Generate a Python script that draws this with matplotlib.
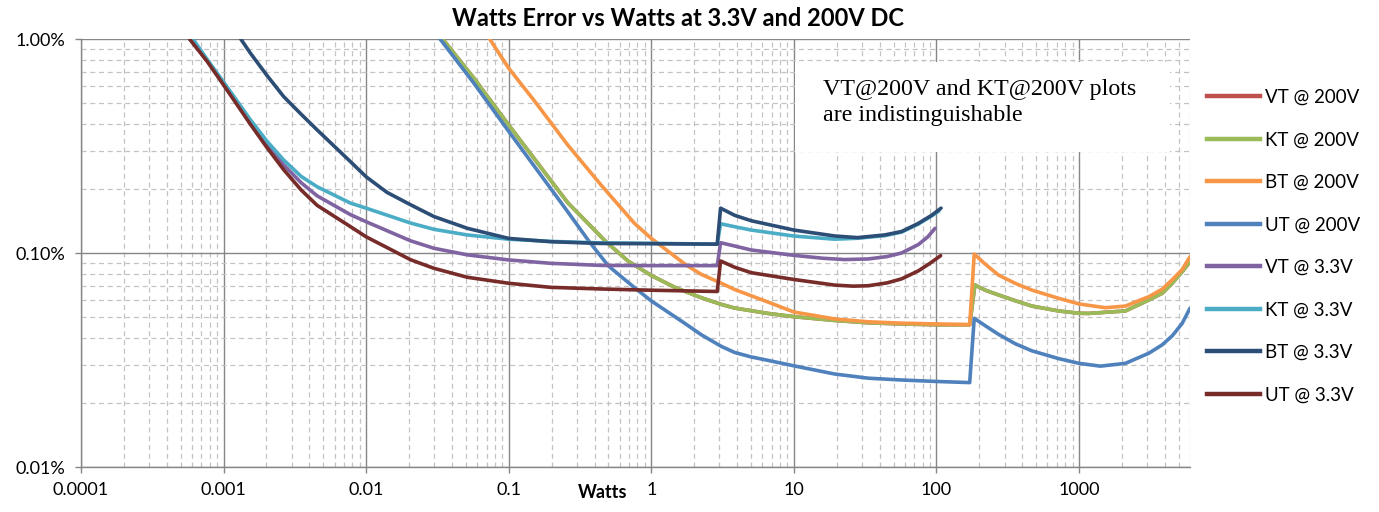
import matplotlib.pyplot as plt
from matplotlib.ticker import FixedLocator, LogLocator, NullFormatter
from matplotlib.lines import Line2D
from matplotlib.patches import Rectangle

# Watts error (%) vs load (W); the step in each curve is the range switch
UT_200_W = [0.033, 0.0571, 0.1, 0.2085, 0.259, 0.367, 0.5, 0.75, 1.0, 1.71, 2.24, 3.1, 3.84, 5,
            6.58, 10, 19.3, 33.2, 56.9, 100, 171, 184, 219, 272, 356, 467, 719, 1000, 1410,
            2113, 3083, 3824, 4500, 5288, 6000]
UT_200_E = [1.0, 0.62, 0.37, 0.19, 0.156, 0.113, 0.087, 0.0695, 0.0597, 0.047, 0.0415, 0.0366,
            0.0343, 0.0327, 0.0315, 0.0297, 0.0272, 0.026, 0.0255, 0.0251, 0.0248, 0.0495, 0.0458,
            0.0417, 0.0377, 0.0349, 0.0321, 0.0305, 0.0296, 0.0305, 0.034, 0.0372, 0.041, 0.0469,
            0.0552]

KT_200_W = [0.0344, 0.0571, 0.1, 0.259, 0.48, 0.69, 1.0, 1.47, 2.24, 3.1, 3.84, 6.58, 10, 19.3,
            33.2, 56.9, 100, 171, 186, 219, 272, 356, 467, 719, 1000, 1167, 2113, 3083, 3824,
            4500, 5288, 6000]
KT_200_E = [1.0, 0.655, 0.396, 0.172, 0.113, 0.0915, 0.0785, 0.069, 0.0618, 0.0575, 0.0553,
            0.0522, 0.0504, 0.0484, 0.0472, 0.0466, 0.0462, 0.0462, 0.0709, 0.0671, 0.0637,
            0.0599, 0.0565, 0.0536, 0.0523, 0.0522, 0.0536, 0.0603, 0.0648, 0.0722, 0.0818, 0.091]

# same values as KT @ 200V
VT_200_W = list(KT_200_W)
VT_200_E = list(KT_200_E)

BT_200_W = [0.0735, 0.1, 0.151, 0.259, 0.4437, 0.761, 1.0, 1.77, 2.24, 3.1, 3.84, 6.58, 10,
            19.3, 33.2, 56.9, 100, 171, 184, 219, 272, 356, 467, 719, 1000, 1528, 2113, 3083,
            3824, 4500, 5288, 6000]
BT_200_E = [1.0, 0.73, 0.515, 0.32, 0.208, 0.1377, 0.117, 0.0875, 0.0795, 0.0722, 0.0675, 0.059,
            0.053, 0.0492, 0.0477, 0.047, 0.0466, 0.0463, 0.0989, 0.0889, 0.0789, 0.0722, 0.0671,
            0.0614, 0.0578, 0.0555, 0.0565, 0.0625, 0.0677, 0.075, 0.0837, 0.0961]

VT_33_W = [0.00058, 0.00077, 0.001, 0.00154, 0.002, 0.00264, 0.0035, 0.00453, 0.00777, 0.01,
           0.0205, 0.0299, 0.0513, 0.1, 0.1976, 0.4437, 1.0, 2.9, 3.06, 3.84, 5.02, 10, 16,
           22.6, 33.2, 45, 56.9, 74.6, 87, 97.7]
VT_33_E = [1.0, 0.79, 0.615, 0.41, 0.325, 0.258, 0.213, 0.185, 0.151, 0.140, 0.114, 0.1052,
           0.098, 0.0928, 0.0895, 0.0875, 0.0873, 0.0873, 0.1117, 0.1078, 0.1033, 0.0975, 0.0945,
           0.0932, 0.0938, 0.0962, 0.1, 0.1095, 0.119, 0.1304]

KT_33_W = [0.00061, 0.00077, 0.001, 0.00154, 0.002, 0.00264, 0.0035, 0.00453, 0.00777, 0.01,
           0.0205, 0.0299, 0.0513, 0.1, 0.1976, 0.4437, 1.0, 2.9, 3.06, 3.84, 5.02, 10, 19.3,
           28, 43.5, 56.9, 74.6, 92.5, 104]
KT_33_E = [1.0, 0.80, 0.63, 0.42, 0.335, 0.272, 0.228, 0.204, 0.171, 0.162, 0.138, 0.129,
           0.1214, 0.116, 0.1133, 0.1115, 0.111, 0.110, 0.137, 0.1327, 0.128, 0.12, 0.116,
           0.1172, 0.1205, 0.1252, 0.1365, 0.149, 0.157]

BT_33_W = [0.00132, 0.00154, 0.002, 0.00264, 0.0035, 0.00453, 0.00777, 0.01, 0.014, 0.0205,
           0.0299, 0.0513, 0.1, 0.1976, 0.4437, 1.0, 2.9, 3.06, 3.84, 5.02, 10, 19.3, 28, 43.5,
           56.9, 74.6, 92.5, 107.6]
BT_33_E = [1.0, 0.86, 0.68, 0.538, 0.445, 0.376, 0.267, 0.227, 0.192, 0.168, 0.148, 0.1304,
           0.117, 0.1129, 0.1108, 0.1105, 0.110, 0.162, 0.150, 0.1415, 0.128, 0.1201, 0.118,
           0.1215, 0.126, 0.1375, 0.150, 0.162]

UT_33_W = [0.000577, 0.00077, 0.001, 0.00154, 0.002, 0.00264, 0.0035, 0.00453, 0.00777, 0.01,
           0.0205, 0.0299, 0.0513, 0.1, 0.1976, 0.4437, 1.0, 2.9, 3.06, 3.84, 5.02, 10, 19.3,
           26, 33.2, 45, 56.9, 74.6, 90, 107]
UT_33_E = [1.0, 0.783, 0.61, 0.40, 0.313, 0.245, 0.197, 0.167, 0.1327, 0.119, 0.093, 0.0848,
           0.077, 0.0722, 0.0691, 0.0679, 0.067, 0.0661, 0.0918, 0.0858, 0.0809, 0.0752, 0.0708,
           0.0700, 0.0703, 0.0725, 0.0757, 0.0825, 0.0895, 0.0972]

SERIES = [
    ("VT @ 200V", VT_200_W, VT_200_E, "#C0504D"),
    ("KT @ 200V", KT_200_W, KT_200_E, "#9BBB59"),
    ("BT @ 200V", BT_200_W, BT_200_E, "#F79646"),
    ("UT @ 200V", UT_200_W, UT_200_E, "#4F81BD"),
    ("VT @ 3.3V", VT_33_W, VT_33_E, "#8064A2"),
    ("KT @ 3.3V", KT_33_W, KT_33_E, "#4BACC6"),
    ("BT @ 3.3V", BT_33_W, BT_33_E, "#2C4D75"),
    ("UT @ 3.3V", UT_33_W, UT_33_E, "#772C2A"),
]

X_TICKS = [0.0001, 0.001, 0.01, 0.1, 1, 10, 100, 1000]
X_LABELS = ["0.0001", "0.001", "0.01", "0.1", "1", "10", "100", "1000"]
Y_TICKS = [0.01, 0.1, 1.0]
Y_LABELS = ["0.01%", "0.10%", "1.00%"]

plt.rcParams["font.family"] = ["Lato", "DejaVu Sans"]

W, H = 1379, 512
L, R, T, B = 81, 1190, 39, 467  # plot area in pixels
fig = plt.figure(figsize=(W / 100, H / 100), dpi=100)
ax = fig.add_axes([L / W, 1 - B / H, (R - L) / W, (B - T) / H])

ax.set_xscale("log")
ax.set_yscale("log")
ax.set_xlim(1e-4, 6000)
ax.set_ylim(0.01, 1.0)

for axis in (ax.xaxis, ax.yaxis):
    axis.set_minor_locator(LogLocator(base=10, subs=range(2, 10), numticks=100))
    axis.set_minor_formatter(NullFormatter())
ax.xaxis.set_major_locator(FixedLocator(X_TICKS))
ax.yaxis.set_major_locator(FixedLocator(Y_TICKS))
ax.set_xticklabels(X_LABELS)
ax.set_yticklabels(Y_LABELS)

ax.grid(which="major", color="#868686", lw=1.0, ls="-")
ax.grid(which="minor", color="#c3c3c3", lw=0.9, ls=(0, (4, 3)))
ax.set_axisbelow(True)

for side in ("top", "right"):
    ax.spines[side].set_visible(False)
for side in ("left", "bottom"):
    ax.spines[side].set_color("#868686")
    ax.spines[side].set_linewidth(1.0)

ax.tick_params(which="major", length=4, width=1, color="#868686", labelsize=13, pad=7)
ax.tick_params(which="minor", length=0)

# white note box sitting over the grid
box = Rectangle(((795 - L) / (R - L), (B - 152) / (B - T)), 375 / (R - L), 90 / (B - T),
                transform=ax.transAxes, facecolor="white", edgecolor="none", zorder=1)
ax.add_patch(box)
ax.text((823 - L) / (R - L), (B - 79) / (B - T),
        "VT@200V and KT@200V plots\nare indistinguishable",
        transform=ax.transAxes, ha="left", va="top", fontsize=17.3,
        family=["Liberation Serif", "DejaVu Serif"], linespacing=1.3, zorder=2)

for label, xs, ys, col in SERIES:
    ax.plot(xs, ys, color=col, lw=2.6, solid_joinstyle="round", solid_capstyle="round",
            zorder=3, label=label)

fig.text(678 / W, 1 - 19 / H, "Watts Error vs Watts at 3.3V and 200V DC",
         ha="center", va="center", fontsize=17, fontweight="bold")
fig.text(603 / W, 1 - 492 / H, "Watts", ha="center", va="center",
         fontsize=13, fontweight="bold")

handles = [Line2D([], [], color=c, lw=3.2) for _, _, _, c in SERIES]
fig.legend(handles, [s[0] for s in SERIES], loc="upper left",
           bbox_to_anchor=(1207 / W, 1 - 89 / H), frameon=False,
           fontsize=13.5, handlelength=2.83, handletextpad=0.27,
           labelspacing=1.36, borderpad=0, borderaxespad=0)

fig.savefig("out.png", dpi=100, facecolor="white")
